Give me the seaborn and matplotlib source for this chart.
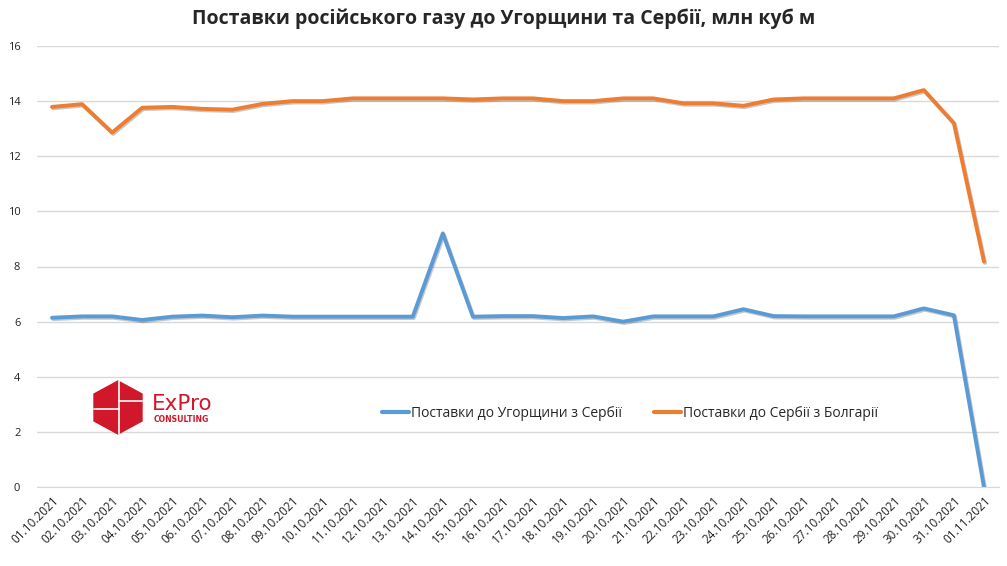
import numpy as np
import pandas as pd
import matplotlib
matplotlib.use("Agg")
import matplotlib.pyplot as plt
import matplotlib.patheffects as pe
from matplotlib.patches import Polygon
import seaborn as sns


dates = ["01.10.2021", "02.10.2021", "03.10.2021", "04.10.2021", "05.10.2021",
         "06.10.2021", "07.10.2021", "08.10.2021", "09.10.2021", "10.10.2021",
         "11.10.2021", "12.10.2021", "13.10.2021", "14.10.2021", "15.10.2021",
         "16.10.2021", "17.10.2021", "18.10.2021", "19.10.2021", "20.10.2021",
         "21.10.2021", "22.10.2021", "23.10.2021", "24.10.2021", "25.10.2021",
         "26.10.2021", "27.10.2021", "28.10.2021", "29.10.2021", "30.10.2021",
         "31.10.2021", "01.11.2021"]

#до Угорщини з Сербії
hungary = [6.14, 6.19, 6.19, 6.06, 6.18, 6.22, 6.16, 6.22, 6.18, 6.18,
           6.18, 6.18, 6.18, 9.2, 6.18, 6.2, 6.2, 6.13, 6.19, 6.0,
           6.19, 6.19, 6.19, 6.45, 6.2, 6.19, 6.19, 6.19, 6.19, 6.48,
           6.23, 0.0]

#до Сербії з Болгарії
serbia = [13.79, 13.89, 12.86, 13.76, 13.79, 13.72, 13.69, 13.90, 14.0, 14.0,
          14.1, 14.1, 14.1, 14.1, 14.06, 14.1, 14.1, 14.0, 14.0, 14.1,
          14.1, 13.92, 13.92, 13.83, 14.06, 14.1, 14.1, 14.1, 14.1, 14.4,
          13.2, 8.18]

names = ["Поставки до Угорщини з Сербії", "Поставки до Сербії з Болгарії"]
colors = ["#5B9BD5", "#ED7D31"]

df = pd.concat([
    pd.DataFrame({"idx": range(len(dates)), "value": hungary, "series": names[0]}),
    pd.DataFrame({"idx": range(len(dates)), "value": serbia, "series": names[1]}),
])

sns.set_style("white")
plt.rcParams["font.family"] = ["Open Sans", "DejaVu Sans"]

fig = plt.figure(figsize=(10.07, 5.66), dpi=100)
ax = fig.add_axes([37 / 1007, 1 - 487 / 566, 962 / 1007, 441 / 566])

sns.lineplot(data=df, x="idx", y="value", hue="series", palette=colors,
             linewidth=2.8, ax=ax, legend=True)
for line in ax.lines:
    line.set_path_effects([pe.SimpleLineShadow(offset=(0.8, -1.0), alpha=0.22),
                           pe.Normal()])

ax.set_xlim(-0.5, len(dates) - 0.5)
ax.set_ylim(0, 16)
ax.set_yticks(range(0, 17, 2))
ax.yaxis.grid(True, color="#D9D9D9", linewidth=1)
ax.set_xticks(range(len(dates)))
ax.set_xticklabels(dates, rotation=45, ha="right", rotation_mode="anchor",
                   fontsize=8.5, color="#222222")
ax.set_xticks(np.arange(-0.5, len(dates), 1), minor=True)
ax.tick_params(axis="x", which="major", length=0, pad=5)
ax.tick_params(axis="x", which="minor", length=5, color="#D9D9D9", width=1)
ax.tick_params(axis="y", length=0, labelsize=8, labelcolor="#222222", pad=12)
ax.set_xlabel("")
ax.set_ylabel("")
for s in ["top", "right", "left"]:
    ax.spines[s].set_visible(False)
ax.spines["bottom"].set_color("#D9D9D9")

handles, labels = ax.get_legend_handles_labels()
leg = ax.legend(handles, labels, loc="center", bbox_to_anchor=(0.616, 0.166),
                ncol=2, frameon=False, fontsize=10, handlelength=2.0,
                columnspacing=2.3, handletextpad=0.1)
for h in leg.get_lines():
    h.set_linewidth(3)
    h.set_path_effects([])

fig.suptitle("Поставки російського газу до Угорщини та Сербії, млн куб м",
             x=0.5, y=0.985, fontsize=14, fontweight="bold")

# логотип
ov = fig.add_axes([0, 0, 1, 1], zorder=5)
ov.set_xlim(0, 1007)
ov.set_ylim(566, 0)
ov.axis("off")
ov.patch.set_alpha(0)
hexagon = [(118, 381), (142, 394), (142, 421), (118, 434), (94, 421), (94, 394)]
ov.add_patch(Polygon(hexagon, closed=True, color="#D0182A"))
ov.plot([119, 119], [381, 434], color="white", lw=1.2)
ov.plot([94, 119], [409, 409], color="white", lw=1.2)
ov.plot([119, 142], [401, 401], color="white", lw=1.2)
ov.text(152, 404, "ExPro", color="#D0182A", fontsize=15.5, va="center",
        ha="left", family="DejaVu Sans")
ov.text(154, 419, "CONSULTING", color="#D0182A", fontsize=5.6, va="center",
        ha="left", fontweight="bold", family="DejaVu Sans")

fig.savefig("out.png", dpi=100)
